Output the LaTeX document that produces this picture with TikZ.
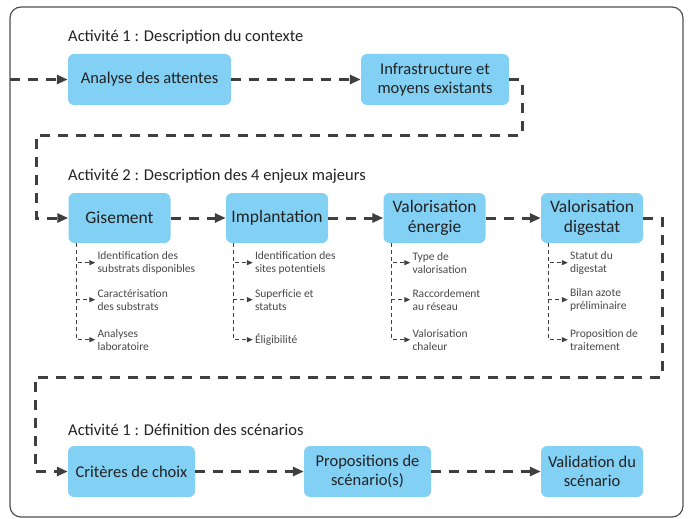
\documentclass[tikz,border=0pt]{standalone}
\usepackage{fontspec}
\setmainfont{Carlito}
\usetikzlibrary{arrows.meta,calc}
\definecolor{boxblue}{HTML}{82D0F4}
\definecolor{lin}{HTML}{3F3F3F}
\definecolor{frm}{HTML}{505050}
\definecolor{subtxt}{HTML}{484848}
\definecolor{txt}{HTML}{222222}
\tikzset{
  x=1pt,y=-1pt,
  box/.style={draw=none,fill=boxblue,rounded corners=6pt,align=center,text=txt,inner sep=2pt},
  boxa/.style={box,font=\fontsize{16.5}{19.5}\selectfont,minimum height=51pt},
  boxb/.style={box,font=\fontsize{17.5}{20}\selectfont,minimum height=50pt,minimum width=102pt},
  ttl/.style={anchor=base west,inner sep=0pt,text=txt,font=\fontsize{16.5}{19}\selectfont},
  flow/.style={draw=lin,line width=3pt,dash pattern=on 10pt off 8pt,-{Triangle[length=11pt,width=9pt]}},
  subflow/.style={draw=lin,line width=1.1pt,dash pattern=on 4pt off 3pt,-{Triangle[length=6pt,width=5pt]}},
  item/.style={anchor=west,inner sep=2pt,align=left,text=subtxt,font=\fontsize{11.5}{13}\selectfont},
}
\begin{document}
\begin{tikzpicture}
\useasboundingbox (0,0) rectangle (688,519);
% frame
\draw[frm,line width=1.2pt,rounded corners=11pt] (10,7) rectangle (683,517);
% row 1
\node[ttl] (t1) at (68,42) {Activité 1 : Description du contexte};
\node[boxa,minimum width=163pt] (ana) at (149.5,79.5) {Analyse des attentes};
\node[boxa,minimum width=148pt] (inf) at (435,79.5) {Infrastructure et\\moyens existants};
\coordinate (s0) at (10,79.5);
\draw[flow] (s0) -- (ana.west);
\draw[flow] (ana.east) -- (inf.west);
% row 2
\node[ttl] (t2) at (68,180) {Activité 2 : Description des 4 enjeux majeurs};
\node[boxb] (gis) at (119.5,218) {Gisement};
\node[boxb] (imp) at (277,218) {Implantation};
\node[boxb] (ven) at (434.5,218) {Valorisation\\énergie};
\node[boxb] (vdi) at (592,218) {Valorisation\\digestat};
\coordinate (a1) at (522,135);
\coordinate (a2) at (36,135);
\draw[flow] (inf.east) -| (a1) -- (a2) |- (gis.west);
\draw[flow] (gis.east) -- (imp.west);
\draw[flow] (imp.east) -- (ven.west);
\draw[flow] (ven.east) -- (vdi.west);
% sub items
\foreach \b/\n/\ia/\ib/\ic in {
  gis/g/{Identification des\\substrats disponibles}/{Caractérisation\\des substrats}/{Analyses\\laboratoire},
  imp/i/{Identification des\\sites potentiels}/{Superficie et\\statuts}/{Éligibilité},
  ven/e/{Type de\\valorisation}/{Raccordement\\au réseau}/{Valorisation\\chaleur},
  vdi/d/{Statut du\\digestat}/{Bilan azote\\préliminaire}/{Proposition de\\traitement}}{
  \coordinate (\n0) at ($(\b.south west)+(8,0)$);
  \node[item] (\n1) at ($(\b.south west)+(27,19.5)$) {\ia};
  \node[item] (\n2) at ($(\b.south west)+(27,56.5)$) {\ib};
  \node[item] (\n3) at ($(\b.south west)+(27,96.5)$) {\ic};
  \draw[subflow] (\n0) |- (\n1.west);
  \draw[subflow] (\n0) |- (\n2.west);
  \draw[subflow] (\n0) |- (\n3.west);
}
% row 3
\node[ttl] (t3) at (68,435) {Activité 1 : Définition des scénarios};
\node[boxa,minimum width=127pt] (cri) at (131.5,471.5) {Critères de choix};
\node[boxa,minimum width=127pt] (pro) at (367.5,471.5) {Propositions de\\scénario(s)};
\node[boxa,minimum width=102pt] (val) at (592,471.5) {Validation du\\scénario};
\coordinate (b1) at (662,377);
\coordinate (b2) at (35,377);
\draw[flow] (vdi.east) -| (b1) -- (b2) |- (cri.west);
\draw[flow] (cri.east) -- (pro.west);
\draw[flow] (pro.east) -- (val.west);
\end{tikzpicture}
\end{document}
